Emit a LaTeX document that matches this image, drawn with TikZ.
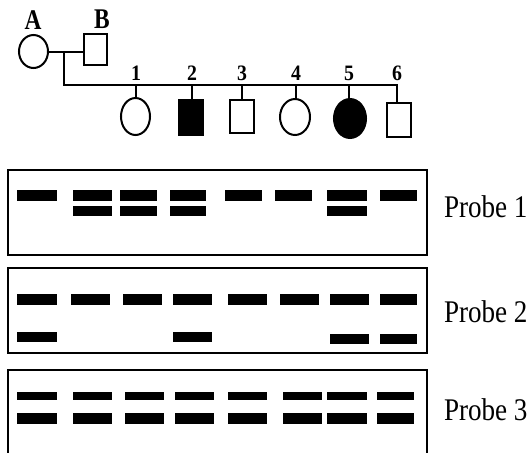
\documentclass[tikz,border=0pt]{standalone}
\usepackage{fontspec}
\setmainfont{Liberation Serif}
\usetikzlibrary{shapes.geometric}
\begin{document}
\begin{tikzpicture}[x=1pt,y=-1pt,
  line width=2pt,
  fem/.style={draw,ellipse,inner sep=0pt,minimum width=#1},
  male/.style={draw,rectangle,inner sep=0pt},
  lbl/.style={inner sep=0pt,anchor=base,font=\fontsize{28.5}{30}\selectfont\bfseries},
  num/.style={inner sep=0pt,anchor=base,font=\fontsize{22}{24}\selectfont\bfseries},
  probe/.style={inner sep=0pt,anchor=base west,font=\fontsize{31.5}{34}\selectfont},
  gel/.style={line width=2pt},
  band/.style={fill=black}]
\useasboundingbox (0,0) rectangle (531,453);
% parents
\node[fem=29,minimum height=33] (A) at (33.5,51.5) {};
\node[male,minimum width=23,minimum height=31] (B) at (95.5,49.5) {};
\node[lbl] (la) at (33,29) {\scalebox{0.82}[1]{A}};
\node[lbl] (lb) at (102,28.5) {\scalebox{0.82}[1]{B}};
% children
\node[fem=29,minimum height=37] (c1) at (135.5,116.5) {};
\node[male,fill=black,minimum width=24,minimum height=35] (c2) at (191,117.5) {};
\node[male,minimum width=24,minimum height=33] (c3) at (242,116.5) {};
\node[fem=30,minimum height=36] (c4) at (295,117) {};
\node[fem=32,fill=black,minimum height=39] (c5) at (350,118.5) {};
\node[male,minimum width=24,minimum height=34] (c6) at (399,120) {};
\foreach \i/\x in {1/136,2/192,3/242,4/296,5/349,6/397}{
  \node[num] (n\i) at (\x,80) {\scalebox{0.9}[1]{\i}};
}
\coordinate (m) at (64,52);
\coordinate (s0) at (64,85);
\coordinate (s6) at (398,85);
\draw (A.east) -- (B.west |- A.east);
\draw (m) -- (s0) -- (s6);
\foreach \i in {1,...,6}{
  \draw (c\i.north -| n\i) -- (n\i |- s0);
}
% gels
\draw[gel] (8,170) rectangle (427,255);
\draw[gel] (8,268) rectangle (427,353);
\draw[gel] (8,454) -- (8,370) -- (427,370) -- (427,454);
% probe 1
\foreach \a/\b in {17/57,73/112,120/157,170/206,225/262,275/312,327/367,380/417}{
  \fill[band] (\a,190) rectangle (\b,201);
}
\foreach \a/\b in {73/112,120/157,170/206,327/367}{
  \fill[band] (\a,206) rectangle (\b,216);
}
% probe 2
\foreach \a/\b in {17/57,71/110,123/162,173/212,228/267,280/319,330/369,380/417}{
  \fill[band] (\a,294) rectangle (\b,305);
}
\fill[band] (17,332) rectangle (57,342);
\fill[band] (173,332) rectangle (212,342);
\fill[band] (330,334) rectangle (369,344);
\fill[band] (380,334) rectangle (417,344);
% probe 3
\foreach \a/\b in {17/57,73/112,125/164,175/214,228/267,283/322,327/367,377/414}{
  \fill[band] (\a,392) rectangle (\b,400);
  \fill[band] (\a,413) rectangle (\b,424);
}
\node[probe] (p1) at (443,217) {\scalebox{0.86}[1]{Probe 1}};
\node[probe] (p2) at (443,322) {\scalebox{0.86}[1]{Probe 2}};
\node[probe] (p3) at (443,420) {\scalebox{0.86}[1]{Probe 3}};
\end{tikzpicture}
\end{document}
